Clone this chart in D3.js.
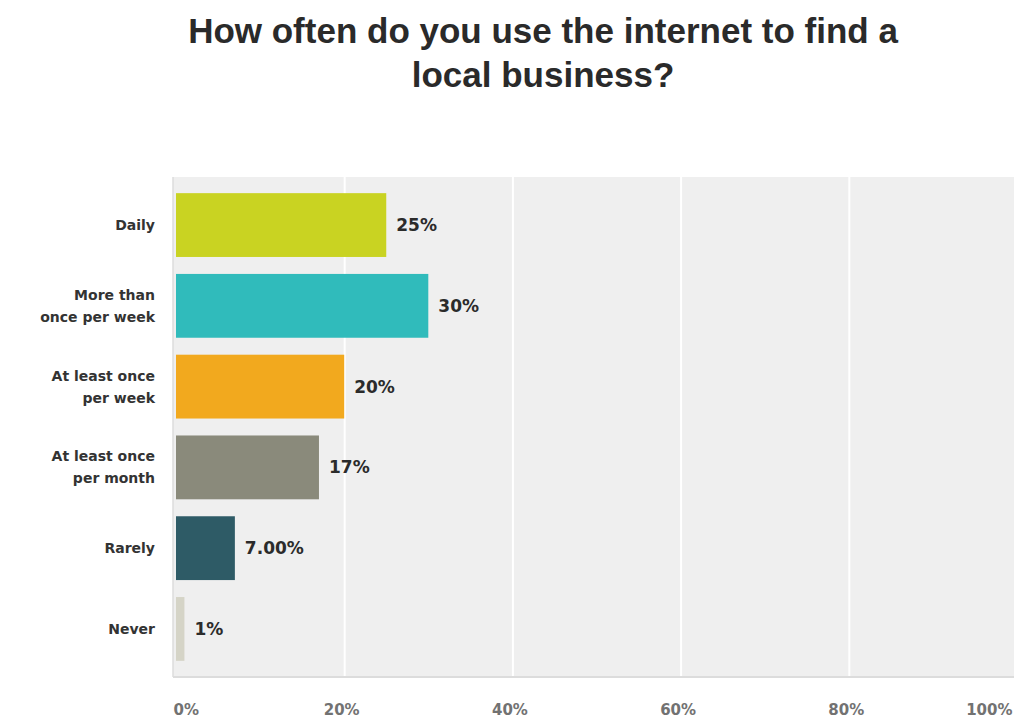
<!DOCTYPE html>
<html>
<head>
<meta charset="utf-8">
<script src="https://cdn.jsdelivr.net/npm/d3@7"></script>
<style>
  body { margin: 0; background: #fff; }
  text { font-family: "DejaVu Sans", Verdana, sans-serif; }
</style>
</head>
<body>
<div id="chart"></div>
<script>
// Chart data
const categories = ["Daily", "More than once per week", "At least once per week", "At least once per month", "Rarely", "Never"];
const categoryLines = [["Daily"], ["More than", "once per week"], ["At least once", "per week"], ["At least once", "per month"], ["Rarely"], ["Never"]];
const values = [25, 30, 20, 17, 7, 1];
const valueLabels = ["25%", "30%", "20%", "17%", "7.00%", "1%"];
const barColors = ["#c9d322", "#30bbbb", "#f2a91e", "#8a8a7b", "#2e5b66", "#d5d4c7"];
const xTicks = [0, 20, 40, 60, 80, 100];

const width = 1014, height = 719;
const margin = { top: 177, right: -3, bottom: 42, left: 176 };
const plotW = width - margin.left - margin.right;
const plotH = height - margin.top - margin.bottom;

const svg = d3.select("#chart")
    .append("svg")
    .attr("width", width)
    .attr("height", height);

// Title
svg.append("text")
    .attr("text-anchor", "middle")
    .attr("font-size", 35)
    .attr("font-weight", "bold")
    .attr("fill", "#2a2a2a")
    .style("font-family", "'Liberation Sans', Arial, sans-serif")
    .selectAll("tspan")
    .data(["How often do you use the internet to find a", "local business?"])
    .join("tspan")
    .attr("x", 543)
    .attr("y", (d, i) => 43 + i * 44)
    .text(d => d);

const g = svg.append("g")
    .attr("transform", `translate(${margin.left},${margin.top})`);

const xScale = d3.scaleLinear().domain([0, 100]).range([0, plotW]);
const yScale = d3.scaleBand().domain(categories).range([0, plotH]).paddingInner(0.21).paddingOuter(0.2);

// Plot background
g.append("rect")
    .attr("x", -3)
    .attr("y", 0)
    .attr("width", width - margin.left + 3)
    .attr("height", plotH)
    .attr("fill", "#efefef");

// Grid lines
g.append("g")
    .attr("class", "grid")
    .attr("transform", `translate(0, ${plotH})`)
    .call(d3.axisBottom(xScale).tickValues(xTicks.slice(1)).tickSize(-plotH).tickFormat(""))
    .call(s => s.select(".domain").remove())
    .call(s => s.selectAll("line").attr("stroke", "#fff").attr("stroke-width", 2));

// Axis lines
g.append("line")
    .attr("x1", -3).attr("x2", -3)
    .attr("y1", 0).attr("y2", plotH)
    .attr("stroke", "#dcdcdc").attr("stroke-width", 1.5);
g.append("line")
    .attr("x1", -3).attr("x2", width - margin.left)
    .attr("y1", plotH).attr("y2", plotH)
    .attr("stroke", "#dcdcdc").attr("stroke-width", 2);

// Bars
g.selectAll(".bar")
    .data(values)
    .join("rect")
    .attr("class", "bar")
    .attr("x", 0)
    .attr("y", (d, i) => yScale(categories[i]))
    .attr("width", d => xScale(d))
    .attr("height", yScale.bandwidth())
    .attr("fill", (d, i) => barColors[i]);

// Value labels
g.selectAll(".val")
    .data(values)
    .join("text")
    .attr("class", "val")
    .attr("x", d => xScale(d) + 10)
    .attr("y", (d, i) => yScale(categories[i]) + yScale.bandwidth() / 2)
    .attr("dy", "0.35em")
    .attr("font-size", 17)
    .attr("font-weight", "bold")
    .attr("fill", "#2b2b2b")
    .text((d, i) => valueLabels[i]);

// Category labels
const catG = g.selectAll(".cat")
    .data(categories)
    .join("text")
    .attr("class", "cat")
    .attr("text-anchor", "end")
    .attr("font-size", 14)
    .attr("font-weight", "bold")
    .attr("fill", "#333");
catG.each(function (d, i) {
    const lines = categoryLines[i];
    const cy = yScale(d) + yScale.bandwidth() / 2;
    d3.select(this).selectAll("tspan")
        .data(lines)
        .join("tspan")
        .attr("x", -21)
        .attr("y", (l, j) => cy + (j - (lines.length - 1) / 2) * 22)
        .attr("dy", "0.35em")
        .text(l => l);
});

// X axis labels
g.append("g")
    .attr("transform", `translate(0, ${plotH})`)
    .call(d3.axisBottom(xScale).tickValues(xTicks).tickSize(0).tickPadding(27).tickFormat(d => d + "%"))
    .call(s => s.select(".domain").remove())
    .call(s => s.selectAll("text")
        .attr("font-size", 15)
        .attr("font-weight", "bold")
        .attr("fill", "#727272")
        .attr("font-family", "DejaVu Sans, Verdana, sans-serif")
        .attr("text-anchor", d => d === 100 ? "end" : (d === 0 ? "start" : "middle"))
        .attr("x", d => d === 100 ? -5 : (d === 0 ? -3 : -3)));
</script>
</body>
</html>
